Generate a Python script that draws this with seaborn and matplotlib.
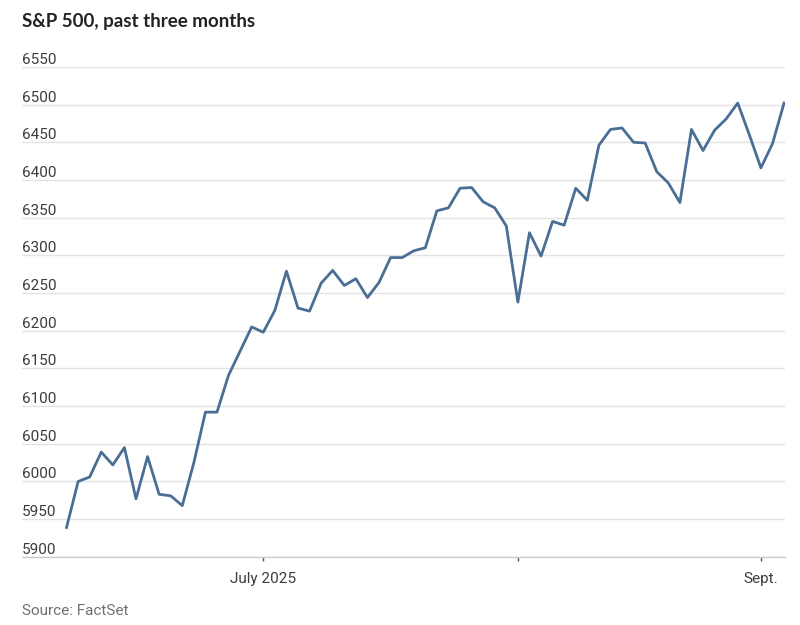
import numpy as np
import pandas as pd
import seaborn as sns
from matplotlib import pyplot as plt
from matplotlib import transforms, font_manager

## Data: S&P 500 daily closes, one point per trading day
dates = ['2025-06-05', '2025-06-06', '2025-06-09', '2025-06-10', '2025-06-11', '2025-06-12',
         '2025-06-13', '2025-06-16', '2025-06-17', '2025-06-18', '2025-06-20', '2025-06-23',
         '2025-06-24', '2025-06-25', '2025-06-26', '2025-06-27', '2025-06-30',
         '2025-07-01', '2025-07-02', '2025-07-03', '2025-07-07', '2025-07-08', '2025-07-09',
         '2025-07-10', '2025-07-11', '2025-07-14', '2025-07-15', '2025-07-16', '2025-07-17',
         '2025-07-18', '2025-07-21', '2025-07-22', '2025-07-23', '2025-07-24', '2025-07-25',
         '2025-07-28', '2025-07-29', '2025-07-30', '2025-07-31',
         '2025-08-01', '2025-08-04', '2025-08-05', '2025-08-06', '2025-08-07', '2025-08-08',
         '2025-08-11', '2025-08-12', '2025-08-13', '2025-08-14', '2025-08-15', '2025-08-18',
         '2025-08-19', '2025-08-20', '2025-08-21', '2025-08-22', '2025-08-25', '2025-08-26',
         '2025-08-27', '2025-08-28', '2025-08-29',
         '2025-09-02', '2025-09-03', '2025-09-04']
close = [5939, 6000, 6006, 6039, 6022, 6045,
         5977, 6033, 5983, 5981, 5968, 6025,
         6092, 6092, 6141, 6173, 6205,
         6198, 6227, 6279, 6230, 6226, 6263,
         6280, 6260, 6269, 6244, 6264, 6297,
         6297, 6306, 6310, 6359, 6363, 6389,
         6390, 6371, 6363, 6339,
         6238, 6330, 6299, 6345, 6340, 6389,
         6373, 6446, 6467, 6469, 6450, 6449,
         6411, 6396, 6370, 6467, 6439, 6466,
         6481, 6502, 6460,
         6416, 6448, 6502]

y_ticks = [5900, 5950, 6000, 6050, 6100, 6150, 6200, 6250, 6300, 6350, 6400, 6450, 6500, 6550]
x_tick_dates = ['2025-07-01', '2025-08-01', '2025-09-02']
x_tick_labels = ['July 2025', '', 'Sept.']

df = pd.DataFrame({'date': dates, 'close': close})
df['day'] = np.arange(len(df))

# narrow font for labels if one is around
installed = {f.name for f in font_manager.fontManager.ttflist}
label_font = 'Liberation Sans Narrow' if 'Liberation Sans Narrow' in installed else 'Roboto'

## Plot
fig = plt.figure(figsize=(8, 6.25), dpi=100)
ax = fig.add_axes([0.0275, 0.109, 0.954, 0.784])

sns.lineplot(data=df, x='day', y='close', ax=ax, color='#4a6e95', linewidth=2.0)

ax.set_xlim(-3.85, 62.1)
ax.set_ylim(5900, 6550)
ax.set_yticks(y_ticks)
ax.yaxis.grid(True, color='#e3e3e3', linewidth=1)
ax.set_axisbelow(True)
ax.tick_params(axis='y', length=0, labelleft=False)

# y labels sit above their gridlines at the left edge
trans = transforms.blended_transform_factory(ax.transAxes, ax.transData)
for v in y_ticks:
    ax.text(0, v, str(v), transform=trans, ha='left', va='bottom', fontsize=11,
            color='#3c3c3c', family=[label_font, 'DejaVu Sans'])

tick_pos = [df.index[df['date'] == d][0] for d in x_tick_dates]
ax.set_xticks(tick_pos)
ax.set_xticklabels(x_tick_labels, fontsize=11, color='#3c3c3c', family=[label_font, 'DejaVu Sans'])
ax.tick_params(axis='x', length=3, width=1, color='#555555', pad=8)

for s in ['top', 'right', 'left']:
    ax.spines[s].set_visible(False)
ax.spines['bottom'].set_color('#cccccc')
ax.spines['bottom'].set_linewidth(1)
ax.set_xlabel('')
ax.set_ylabel('')

fig.text(0.0275, 0.966, 'S&P 500, past three months', fontsize=13.5, fontweight='bold',
         color='#222222', ha='left', va='center', family=['Lato', 'DejaVu Sans'])
fig.text(0.0275, 0.022, 'Source: FactSet', fontsize=11, color='#707070', ha='left', va='center',
         family=[label_font, 'DejaVu Sans'])

fig.savefig('out.png', dpi=100)
